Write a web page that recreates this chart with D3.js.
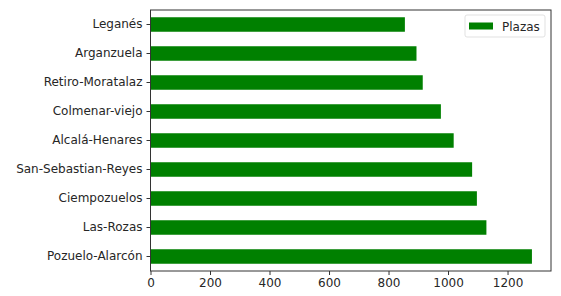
<!DOCTYPE html>
<html>
<head>
<meta charset="utf-8">
<script src="https://cdn.jsdelivr.net/npm/d3@7"></script>
<style>
  body { margin: 0; background: #fff; }
  text { font-family: "DejaVu Sans", sans-serif; font-size: 12px; fill: #262626; }
</style>
</head>
<body>
<div id="chart"></div>
<script>
// categories top to bottom as drawn
var barrios = ["Leganés", "Arganzuela", "Retiro-Moratalaz", "Colmenar-viejo", "Alcalá-Henares",
               "San-Sebastian-Reyes", "Ciempozuelos", "Las-Rozas", "Pozuelo-Alarcón"]
var plazas = [855, 894, 915, 976, 1019, 1081, 1097, 1129, 1282]
var xTicks = [0, 200, 400, 600, 800, 1000, 1200]

var width = 561, height = 296
var margin = {top: 10, right: 10, bottom: 25, left: 150.5}

var svg = d3.select("#chart").append("svg")
    .attr("width", width)
    .attr("height", height)

var x = d3.scaleLinear()
    .domain([0, d3.max(plazas) * 1.05])
    .range([margin.left, width - margin.right])

var y = d3.scaleBand()
    .domain(barrios)
    .range([margin.top, height - margin.bottom])
    .paddingInner(0.5)
    .paddingOuter(0.25)

svg.selectAll("rect.bar")
    .data(barrios)
    .enter().append("rect")
    .attr("class", "bar")
    .attr("x", x(0))
    .attr("y", function(d) { return y(d) })
    .attr("width", function(d, i) { return x(plazas[i]) - x(0) })
    .attr("height", y.bandwidth())
    .attr("fill", "#008000")

// frame
svg.append("rect")
    .attr("x", margin.left)
    .attr("y", margin.top)
    .attr("width", width - margin.right - margin.left)
    .attr("height", height - margin.bottom - margin.top)
    .attr("fill", "none")
    .attr("stroke", "#333")
    .attr("stroke-width", 1)

var xAxis = d3.axisBottom(x).tickValues(xTicks).tickFormat(d3.format("d")).tickSize(4).tickPadding(3)
var gx = svg.append("g")
    .attr("transform", "translate(0," + (height - margin.bottom) + ")")
    .call(xAxis)
gx.select(".domain").remove()
gx.selectAll("line").attr("stroke", "#333").attr("stroke-width", 1)
gx.selectAll("text").style("font-size", "12px").attr("fill", "#262626")
    .attr("font-family", null)

var yAxis = d3.axisLeft(y).tickSize(4).tickPadding(4)
var gy = svg.append("g")
    .attr("transform", "translate(" + margin.left + ",0)")
    .call(yAxis)
gy.select(".domain").remove()
gy.selectAll("line").attr("stroke", "#333").attr("stroke-width", 1)
gy.selectAll("text").style("font-size", "12px").attr("fill", "#262626")
    .attr("font-family", null)

// legend
var lg = svg.append("g").attr("transform", "translate(465,15)")
lg.append("rect")
    .attr("width", 80).attr("height", 22).attr("rx", 2)
    .attr("fill", "#fff").attr("stroke", "#d9d9d9").attr("stroke-width", 0.8)
lg.append("rect")
    .attr("x", 4).attr("y", 7.5).attr("width", 24).attr("height", 7)
    .attr("fill", "#008000")
lg.append("text")
    .attr("x", 37).attr("y", 15.5).text("Plazas")
</script>
</body>
</html>
